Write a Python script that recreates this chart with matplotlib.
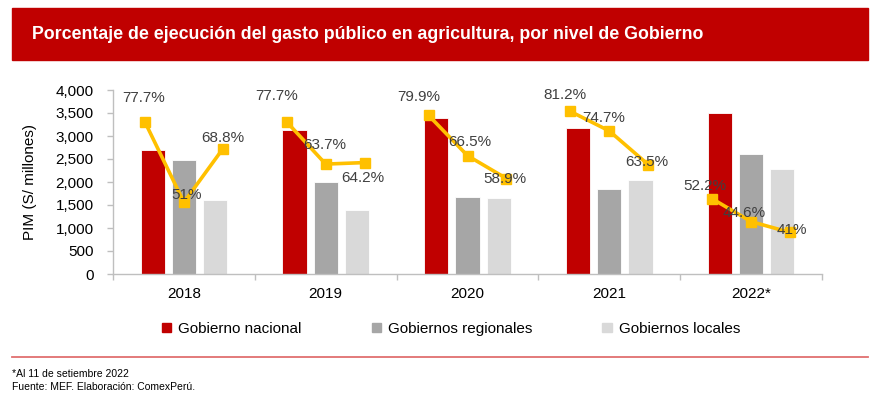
import numpy as np
import matplotlib
matplotlib.use('Agg')
import matplotlib.pyplot as plt
from matplotlib.patches import Rectangle, Patch

plt.rcParams['font.family'] = ['Liberation Sans', 'DejaVu Sans']

# datos (PIM en S/ millones y % de ejecucion)
anios = ['2018', '2019', '2020', '2021', '2022*']
niveles = ['Gobierno nacional', 'Gobiernos regionales', 'Gobiernos locales']
pim_nacional = [2700, 3120, 3390, 3170, 3500]
pim_regional = [2480, 2000, 1670, 1850, 2610]
pim_local = [1600, 1400, 1660, 2050, 2280]
ejec_nacional = [77.7, 77.7, 79.9, 81.2, 52.2]
ejec_regional = [51, 63.7, 66.5, 74.7, 44.6]
ejec_local = [68.8, 64.2, 58.9, 63.5, 41]

colores = ['#C00000', '#A6A6A6', '#D9D9D9']
amarillo = '#FFC000'
gris_txt = '#404040'

# desplazamiento de cada etiqueta % (puntos) respecto a su marcador
offs = [[(-1, 17), (2, 5), (0, 8)],
        [(-7, 19), (-1, 14), (-1, -11)],
        [(-7, 13), (2, 10), (-1, 0)],
        [(-4, 12), (-4, 9), (-1, 2)],
        [(-5, 9), (-5, 6), (1, 2)]]

fig = plt.figure(figsize=(8.8, 3.99), dpi=100)

# banda del titulo
fig.patches.append(Rectangle((12 / 880, 1 - 60 / 399), 856 / 880, 52 / 399,
                             transform=fig.transFigure, color='#C00000', zorder=0))
fig.text(32 / 880, 1 - 34.5 / 399,
         'Porcentaje de ejecución del gasto público en agricultura, por nivel de Gobierno',
         color='white', fontsize=12.8, fontweight='bold', va='center', ha='left')

ax = fig.add_axes([113 / 880, 1 - 274 / 399, 709 / 880, 184 / 399])
x = np.arange(len(anios))
w = 0.172
sep = 0.22
series = [pim_nacional, pim_regional, pim_local]
for i, (vals, c) in enumerate(zip(series, colores)):
    ax.bar(x + (i - 1) * sep, vals, width=w, color=c, edgecolor='white', linewidth=0.6, zorder=2)

ax.set_xlim(-0.5, len(anios) - 0.5)
ax.set_ylim(0, 4000)
ax.set_yticks(np.arange(0, 4001, 500))
ax.set_yticklabels([f'{v:,}' for v in range(0, 4001, 500)])
ax.set_xticks(x)
ax.set_xticklabels(anios)
ax.set_xticks(np.arange(-0.5, len(anios), 1), minor=True)
ax.tick_params(axis='x', which='major', length=0, pad=9, labelsize=11, labelcolor='black')
ax.tick_params(axis='x', which='minor', length=4, color='#BFBFBF', width=1)
ax.tick_params(axis='y', length=4, color='#BFBFBF', width=1, pad=10, labelsize=11, labelcolor='black')
for s in ['top', 'right']:
    ax.spines[s].set_visible(False)
for s in ['left', 'bottom']:
    ax.spines[s].set_color('#BFBFBF')
    ax.spines[s].set_linewidth(1)
ax.set_ylabel('PIM (S/ millones)', fontsize=11)
ax.yaxis.set_label_coords(-0.107, 0.5)

# lineas de % de ejecucion (eje secundario oculto)
ax2 = ax.twinx()
ax2.set_ylim(27.2, 88.3)
ax2.axis('off')
ejec = [ejec_nacional, ejec_regional, ejec_local]
dx = 0.275
for k in range(len(anios)):
    xs = [x[k] - dx, x[k], x[k] + dx]
    ys = [ejec[j][k] for j in range(3)]
    ax2.plot(xs, ys, color=amarillo, lw=2.6, marker='s', markersize=6.5, zorder=3)
    for j in range(3):
        v = ys[j]
        txt = f'{v:g}%' if v == int(v) else f'{v:.1f}%'
        ax2.annotate(txt, (xs[j], v), xytext=offs[k][j], textcoords='offset points',
                     ha='center', va='center', fontsize=11, color=gris_txt, zorder=4)

# leyenda
handles = [Patch(color=c) for c in colores]
fig.legend(handles, niveles, loc='center', bbox_to_anchor=(451 / 880, 1 - 329 / 399),
           ncol=3, frameon=False, fontsize=11, handlelength=0.6, handleheight=0.6,
           handletextpad=0.45, columnspacing=4.6)

# linea separadora y notas
fig.add_artist(plt.Line2D([12 / 880, 868 / 880], [1 - 357 / 399] * 2,
                          transform=fig.transFigure, color='#E07070', lw=1.3))
fig.text(12 / 880, 1 - 374 / 399, '*Al 11 de setiembre 2022', fontsize=7.5, va='center')
fig.text(12 / 880, 1 - 387 / 399, 'Fuente: MEF. Elaboración: ComexPerú.', fontsize=7.5, va='center')

fig.savefig('out.png', dpi=100)
